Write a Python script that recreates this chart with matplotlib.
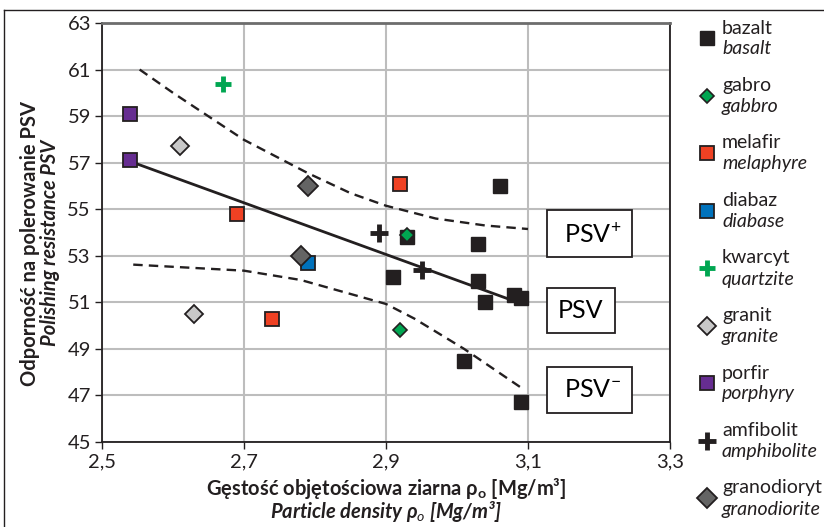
import numpy as np
import matplotlib
matplotlib.use('Agg')
import matplotlib.pyplot as plt
from matplotlib.ticker import FuncFormatter

plt.rcParams['font.family'] = ['Lato', 'DejaVu Sans']
plt.rcParams['mathtext.fontset'] = 'custom'
plt.rcParams['mathtext.rm'] = 'Lato'
plt.rcParams['mathtext.it'] = 'Lato:italic'
plt.rcParams['mathtext.bf'] = 'Lato:bold'

# dane (gestosc [Mg/m3], PSV)
bazalt_x = [3.06, 2.93, 3.03, 2.91, 3.03, 3.08, 3.09, 3.04, 3.01, 3.09]
bazalt_y = [56.0, 53.8, 53.5, 52.1, 51.9, 51.3, 51.2, 51.0, 48.5, 46.7]
gabro_x = [2.93, 2.92]
gabro_y = [53.9, 49.8]
melafir_x = [2.92, 2.69, 2.74]
melafir_y = [56.1, 54.8, 50.3]
diabaz_x = [2.79]
diabaz_y = [52.7]
kwarcyt_x = [2.67]
kwarcyt_y = [60.4]
granit_x = [2.61, 2.63]
granit_y = [57.7, 50.5]
porfir_x = [2.54, 2.54]
porfir_y = [59.1, 57.1]
amfibolit_x = [2.89, 2.95]
amfibolit_y = [54.0, 52.4]
granodioryt_x = [2.79, 2.78]
granodioryt_y = [56.0, 53.0]

# linia trendu i granice przedzialu
trend_x = [2.54, 3.09]
trend_y = [57.05, 50.95]
upper_x = [2.553, 2.60, 2.70, 2.79, 2.85, 2.90, 2.97, 3.04, 3.10]
upper_y = [61.0, 60.0, 57.98, 56.55, 55.69, 55.15, 54.6, 54.3, 54.15]
lower_x = [2.544, 2.70, 2.78, 2.85, 2.90, 2.94, 3.01, 3.09]
lower_y = [52.62, 52.36, 51.96, 51.36, 50.93, 50.3, 49.0, 47.34]

x_ticks = [2.5, 2.7, 2.9, 3.1, 3.3]
y_ticks = [45, 47, 49, 51, 53, 55, 57, 59, 61, 63]

EDGE = '#231f20'
series = [
    ('bazalt', 'basalt', bazalt_x, bazalt_y,
     dict(marker='s', ms=9.5, mfc=EDGE, mec=EDGE, mew=1)),
    ('gabro', 'gabbro', gabro_x, gabro_y,
     dict(marker='D', ms=7, mfc='#00a651', mec=EDGE, mew=1.2)),
    ('melafir', 'melaphyre', melafir_x, melafir_y,
     dict(marker='s', ms=9.5, mfc='#ef4123', mec=EDGE, mew=1.3)),
    ('diabaz', 'diabase', diabaz_x, diabaz_y,
     dict(marker='s', ms=9.5, mfc='#0072bc', mec=EDGE, mew=1.3)),
    ('kwarcyt', 'quartzite', kwarcyt_x, kwarcyt_y,
     dict(marker='+', ms=12, mec='#00a651', mew=3.5)),
    ('granit', 'granite', granit_x, granit_y,
     dict(marker='D', ms=9, mfc='#c8c8c8', mec=EDGE, mew=1.3)),
    ('porfir', 'porphyry', porfir_x, porfir_y,
     dict(marker='s', ms=9.5, mfc='#662d91', mec=EDGE, mew=1.3)),
    ('amfibolit', 'amphibolite', amfibolit_x, amfibolit_y,
     dict(marker='+', ms=13, mec=EDGE, mew=3.5)),
    ('granodioryt', 'granodiorite', granodioryt_x, granodioryt_y,
     dict(marker='D', ms=10, mfc='#646464', mec=EDGE, mew=1.3)),
]

fig = plt.figure(figsize=(8.24, 5.27), dpi=100)
ax = fig.add_axes([102 / 824, 1 - 442 / 527, 568 / 824, 419 / 527])

ax.set_xlim(2.5, 3.3)
ax.set_ylim(45, 63)
ax.set_xticks(x_ticks)
ax.set_yticks(y_ticks)
fmt = FuncFormatter(lambda v, p: ('%.1f' % v).replace('.', ','))
ax.xaxis.set_major_formatter(fmt)
ax.yaxis.set_major_formatter(FuncFormatter(lambda v, p: '%d' % v))
ax.tick_params(labelsize=14.5, length=5, width=1, direction='out', colors='#231f20', pad=3)
ax.grid(True, color='#bdbdbd', lw=1.5)
ax.set_axisbelow(True)
for s in ['left', 'bottom', 'right']:
    ax.spines[s].set_color('#231f20')
    ax.spines[s].set_linewidth(1.3)
ax.spines['top'].set_color('#6d6d6d')
ax.spines['top'].set_linewidth(2)

ax.plot(upper_x, upper_y, ls=(0, (4, 2.6)), color=EDGE, lw=1.7, zorder=2)
ax.plot(lower_x, lower_y, ls=(0, (4, 2.6)), color=EDGE, lw=1.7, zorder=2)
ax.plot(trend_x, trend_y, color=EDGE, lw=2.0, zorder=2)

for i, (pl, en, xs, ys, st) in enumerate(series):
    ax.plot(xs, ys, ls='none', zorder=3 + i, clip_on=False, **st)

# etykiety PSV
box = dict(boxstyle='square,pad=0.45', fc='white', ec=EDGE, lw=1.3)
ax.text(3.142, 53.94, ' PSV$^\\mathregular{+}$', fontsize=18, va='center', ha='left', bbox=box, zorder=20)
ax.text(3.142, 50.64, 'PSV', fontsize=18, va='center', ha='left', bbox=box, zorder=20)
ax.text(3.142, 47.24, ' PSV$^\\mathregular{-}$', fontsize=18, va='center', ha='left', bbox=box, zorder=20)

# opisy osi
cx = (102 + 670) / 2 / 824
fig.text(cx, 1 - 488.5 / 527, 'Gęstość objętościowa ziarna ρ$_\\mathbf{o}$ [Mg/m³]',
         fontsize=14.5, fontweight='bold', ha='center', va='center', color=EDGE)
fig.text(cx, 1 - 512 / 527, 'Particle density ρ$_\\mathit{o}$ [Mg/m³]',
         fontsize=14.5, fontweight='bold', style='italic', ha='center', va='center', color=EDGE)
cy = 1 - 243 / 527
fig.text(30 / 824, cy, 'Odporność na polerowanie PSV', rotation=90,
         fontsize=14.5, fontweight='bold', ha='center', va='center', color=EDGE)
fig.text(50 / 824, cy, 'Polishing resistance PSV', rotation=90,
         fontsize=14.5, fontweight='bold', style='italic', ha='center', va='center', color=EDGE)

# legenda i ramka (w pikselach)
lax = fig.add_axes([0, 0, 1, 1], zorder=-1)
lax.set_xlim(0, 824)
lax.set_ylim(527, 0)
lax.axis('off')
lax.plot([4.5, 824], [9.5, 9.5], color=EDGE, lw=1)
lax.plot([4.5, 4.5], [9.5, 527], color=EDGE, lw=1)

leg = fig.add_axes([0, 0, 1, 1], zorder=5)
leg.set_xlim(0, 824)
leg.set_ylim(527, 0)
leg.axis('off')
for i, (pl, en, xs, ys, st) in enumerate(series):
    y0 = 28 + i * 57.5
    leg.plot([707], [y0 + 10], ls='none', **st)
    leg.text(722, y0, pl, fontsize=14, va='center', ha='left', color=EDGE)
    leg.text(722, y0 + 21, en, fontsize=14, style='italic', va='center', ha='left', color=EDGE)

fig.savefig('out.png', dpi=100)
